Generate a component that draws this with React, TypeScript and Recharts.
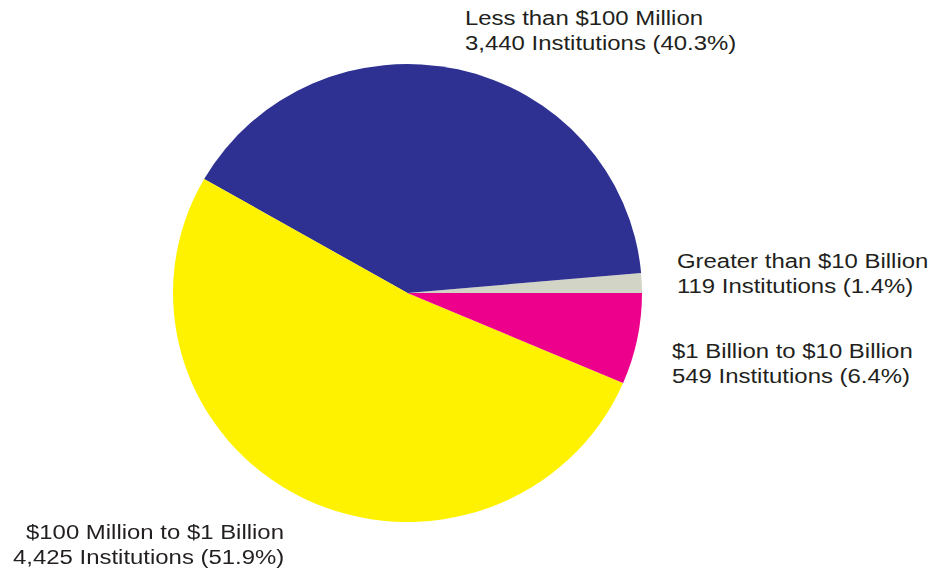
import React from "react";
import { PieChart, Pie, Cell } from "recharts";

const categories = [
  "Greater than $10 Billion",
  "Less than $100 Million",
  "$100 Million to $1 Billion",
  "$1 Billion to $10 Billion",
];
const institutions = [119, 3440, 4425, 549];
const percents = ["1.4%", "40.3%", "51.9%", "6.4%"];
const colors = ["#D2D5C6", "#2E3192", "#FFF200", "#EC008C"];

// label layout relative to pie center (screen px): [dxLine1, dxLine2, dyBaseline]
const labelLayout = [
  [269.5, 269.5, -25],
  [57.5, 57.5, -268],
  [-381.5, -394.5, 246],
  [264.5, 264.5, 65],
];

const CX = 407.5;
const CY = 293;
const R = 234.5;
const K = 229 / 234.5; // vertical squash of the pie
const SX = 1.14; // horizontal stretch of the label text
const LINE = 25;

const data = categories.map((name, i) => ({
  name,
  value: institutions[i],
  pct: percents[i],
}));

const fmt = (n: number) => n.toLocaleString("en-US");

const renderLabel = (props: any) => {
  const { cx, cy, index } = props;
  const [d1, d2, dy] = labelLayout[index];
  const d = data[index];
  const x = cx + d1;
  const y = cy + dy / K;
  const font = "Liberation Sans, Arial, sans-serif";
  return (
    <g key={`lbl-${index}`} transform={`translate(${x},${y}) scale(${SX},${1 / K})`}>
      <text x={0} y={0} fill="#231F20" fontSize={21} fontFamily={font} textAnchor="start">
        {d.name}
      </text>
      <text x={(d2 - d1) / SX} y={LINE} fill="#231F20" fontSize={21} fontFamily={font} textAnchor="start">
        {`${fmt(d.value)} Institutions (${d.pct})`}
      </text>
    </g>
  );
};

export default function App() {
  return (
    <div
      style={{
        position: "absolute",
        left: 0,
        top: 0,
        width: 935,
        height: 573,
        background: "#fff",
        transform: `scaleY(${K})`,
        transformOrigin: `0px ${CY}px`,
      }}
    >
      <PieChart width={935} height={573 / K} margin={{ top: 0, right: 0, bottom: 0, left: 0 }}>
        <Pie
          data={data}
          dataKey="value"
          cx={CX}
          cy={CY}
          outerRadius={R}
          startAngle={0}
          endAngle={360}
          stroke="none"
          label={renderLabel}
          labelLine={false}
          isAnimationActive={false}
        >
          {data.map((_, i) => (
            <Cell key={i} fill={colors[i]} />
          ))}
        </Pie>
      </PieChart>
    </div>
  );
}
